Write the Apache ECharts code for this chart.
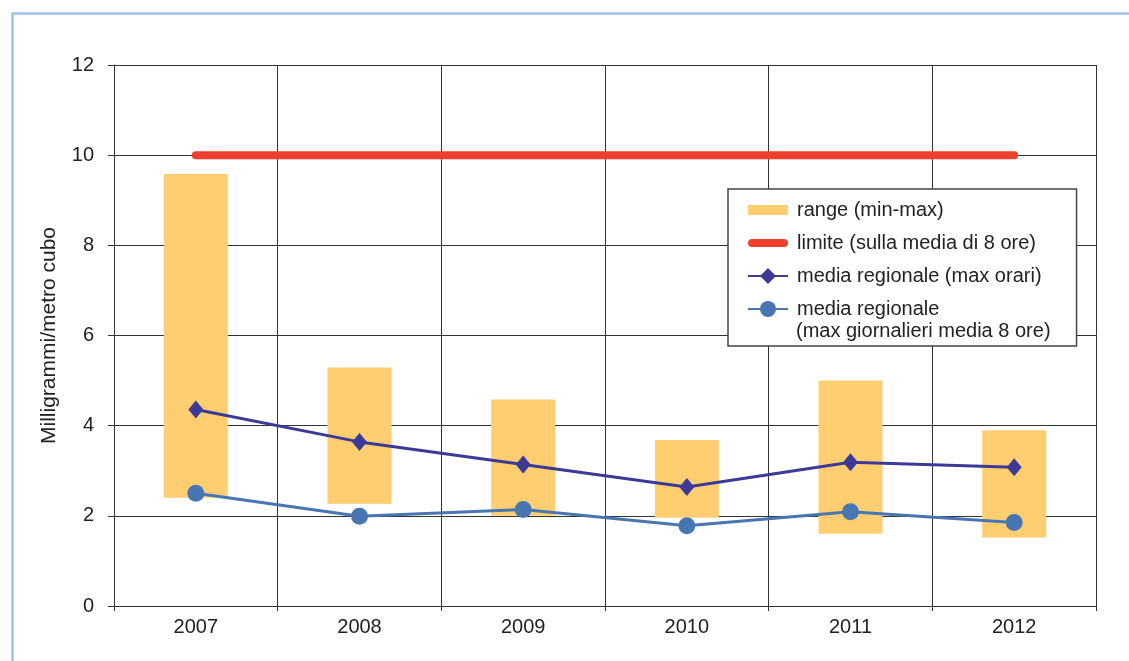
<!DOCTYPE html>
<html>
<head>
<meta charset="utf-8">
<script src="https://cdn.jsdelivr.net/npm/echarts@6/dist/echarts.min.js"></script>
<style>
html,body{margin:0;padding:0;background:#fff;}
#chart{width:1129px;height:661px;}
</style>
</head>
<body>
<div id="chart"></div>
<script>
var categories = ['2007', '2008', '2009', '2010', '2011', '2012'];
var rangeMin = [2.40, 2.27, 2.00, 1.96, 1.60, 1.52];
var rangeMax = [9.58, 5.29, 4.58, 3.68, 5.00, 3.90];
var limitValues = [10, 10, 10, 10, 10, 10];
var mediaMaxOrari = [4.36, 3.64, 3.14, 2.64, 3.19, 3.08];
var mediaMaxGiornalieri = [2.50, 1.99, 2.14, 1.78, 2.09, 1.85];
var yTicks = { min: 0, max: 12, interval: 2 };

var rangeSpan = rangeMax.map(function (v, i) { return +(v - rangeMin[i]).toFixed(2); });

var FONT = 'Liberation Sans, Arial, Helvetica, sans-serif';
var chart = echarts.init(document.getElementById('chart'));
chart.setOption({
  animation: false,
  backgroundColor: '#ffffff',
  textStyle: { fontFamily: FONT },
  grid: { left: 114, right: 33, top: 65, bottom: 55, containLabel: false },
  xAxis: {
    type: 'category',
    data: categories,
    boundaryGap: true,
    axisLine: { lineStyle: { color: '#333', width: 1 } },
    axisTick: { show: true, alignWithLabel: false, length: 5, lineStyle: { color: '#333' } },
    axisLabel: { color: '#222', fontSize: 20, margin: 11, fontFamily: FONT },
    splitLine: { show: true, lineStyle: { color: '#333', width: 1 } }
  },
  yAxis: {
    type: 'value',
    min: yTicks.min, max: yTicks.max, interval: yTicks.interval,
    name: 'Milligrammi/metro cubo',
    nameLocation: 'middle',
    nameRotate: 90,
    nameGap: 54,
    nameTextStyle: { color: '#222', fontSize: 21, fontFamily: FONT },
    axisLine: { show: true, lineStyle: { color: '#333', width: 1 } },
    axisTick: { show: true, length: 6, lineStyle: { color: '#333' } },
    axisLabel: { color: '#222', fontSize: 20, margin: 20, fontFamily: FONT },
    splitLine: { show: true, lineStyle: { color: '#333', width: 1 } }
  },
  legend: {
    orient: 'vertical',
    left: 728, top: 189,
    backgroundColor: '#fff',
    borderColor: '#444', borderWidth: 1.5,
    padding: [10, 35, 26, 19],
    itemWidth: 40, itemHeight: 20, itemGap: 11,
    textStyle: { color: '#222', fontSize: 20, lineHeight: 22, fontFamily: FONT, padding: [0, 0, 0, 4] },
    data: [
      { name: 'range (min-max)', icon: 'path://M0,0 M0,5 L40,5 L40,15 L0,15 Z M40,20' },
      { name: 'limite (sulla media di 8 ore)', icon: 'path://M0,0 M4,6 L36,6 A4,4 0 0 1 36,14 L4,14 A4,4 0 0 1 4,6 Z M40,20' },
      'media regionale (max orari)',
      'media regionale'
    ]
  },
  graphic: [
    {
      type: 'rect', left: 10, top: 11, z: -10,
      shape: { width: 1200, height: 700 },
      style: { fill: 'none', stroke: '#9DC3E8', lineWidth: 2.5 }
    },
    {
      type: 'text', left: 796, top: 321, z: 100,
      style: { text: '(max giornalieri media 8 ore)', fill: '#222', font: '20px ' + FONT }
    }
  ],
  series: [
    {
      name: 'base', type: 'bar', stack: 'range', data: rangeMin, barWidth: 64,
      itemStyle: { color: 'rgba(0,0,0,0)' }, silent: true
    },
    {
      name: 'range (min-max)', type: 'bar', stack: 'range', data: rangeSpan, barWidth: 64,
      itemStyle: { color: '#FECE70' }
    },
    {
      name: 'limite (sulla media di 8 ore)', type: 'line', data: limitValues,
      symbol: 'none', z: 3,
      lineStyle: { color: '#EE402D', width: 8, cap: 'round' },
      itemStyle: { color: '#EE402D' }
    },
    {
      name: 'media regionale (max orari)', type: 'line', data: mediaMaxOrari,
      symbol: 'diamond', symbolSize: [15, 18], z: 4,
      lineStyle: { color: '#3C3A96', width: 3 },
      itemStyle: { color: '#3C3A96' }
    },
    {
      name: 'media regionale', type: 'line', data: mediaMaxGiornalieri,
      symbol: 'circle', symbolSize: 17, z: 5,
      lineStyle: { color: '#4776B2', width: 3 },
      itemStyle: { color: '#4776B2' }
    }
  ]
});
</script>
</body>
</html>
